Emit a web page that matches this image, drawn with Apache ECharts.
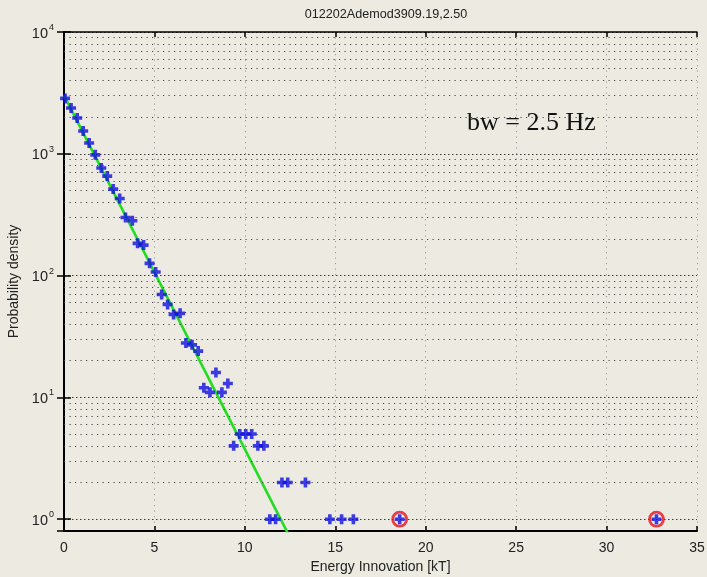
<!DOCTYPE html>
<html>
<head>
<meta charset="utf-8">
<script src="https://cdn.jsdelivr.net/npm/echarts@6/dist/echarts.min.js"></script>
<style>
html,body{margin:0;padding:0;background:#edeae2;}
#c{width:707px;height:577px;}
</style>
</head>
<body>
<div id="c"></div>
<script>
// ---- data ----
var titleText = '012202Ademod3909.19,2.50';
var xName = 'Energy Innovation [kT]';
var yName = 'Probability density';
var noteText = 'bw = 2.5 Hz';

var energyX = [0.06, 0.39, 0.73, 1.06, 1.39, 1.73, 2.06, 2.39, 2.72, 3.08,
               3.40, 3.78, 4.07, 4.40, 4.73, 5.07, 5.40, 5.73, 6.06, 6.42,
               6.74, 7.08, 7.42, 7.73, 8.07, 8.40, 8.73, 9.06, 9.38, 9.72,
               10.05, 10.38, 10.72, 11.05, 11.38, 11.70, 12.05, 12.37, 13.35, 14.70,
               15.35, 16.00, 18.56, 32.76];
var density = [2850, 2380, 1970, 1540, 1225, 980, 765, 656, 513, 430,
               300, 282, 184, 178, 126, 107, 70, 58, 48, 49,
               28, 27, 24, 12, 11, 16, 11, 13, 4, 5,
               5, 5, 4, 4, 1, 1, 2, 2, 2, 1,
               1, 1, 1, 1];
var outlierX = [18.56, 32.76];
var outlierY = [1, 1];
var fitX = [0, 12.6];
var fitY = [3020, 0.66];

var xTicks = [0, 5, 10, 15, 20, 25, 30, 35];
var yMinorGrid = [2,3,4,5,6,7,8,9, 20,30,40,50,60,70,80,90,
                  200,300,400,500,600,700,800,900, 2000,3000,4000,5000,6000,7000,8000,9000];

// ---- chart ----
var chart = echarts.init(document.getElementById('c'), null, {renderer: 'canvas'});
var font = 'Liberation Sans, Arial, sans-serif';

function zip(a, b) { return a.map(function (v, i) { return [v, b[i]]; }); }
function isPow10(v) { var l = Math.log10(v); return Math.abs(l - Math.round(l)) < 1e-6; }

var plusPath = 'path://M3.2,0h3.6v3.2h3.2v3.6h-3.2v3.2h-3.6v-3.2h-3.2v-3.6h3.2z';
var dotGridH = {color: '#444444', width: 1, type: [1.2, 4.3]};
var dotGridV = {color: '#9a9a9a', width: 1, type: [1.2, 4.3]};

var option = {
  backgroundColor: '#edeae2',
  animation: false,
  title: {
    text: titleText, left: 381, top: 3, textAlign: 'center',
    textStyle: {fontFamily: font, fontSize: 12.6, fontWeight: 'normal', color: '#222'}
  },
  grid: {left: 64, right: 10, top: 32, bottom: 46, containLabel: false, outerBoundsMode: 'none'},
  xAxis: [{
    type: 'value', min: xTicks[0], max: xTicks[xTicks.length - 1], interval: 5,
    name: xName, nameLocation: 'middle', nameGap: 29,
    nameTextStyle: {fontFamily: font, fontSize: 14, color: '#222'},
    axisLine: {lineStyle: {color: '#000', width: 2}},
    axisTick: {inside: true, length: 5, lineStyle: {color: '#000', width: 1.5}},
    axisLabel: {fontFamily: font, fontSize: 14, color: '#222', margin: 10},
    splitLine: {show: true, lineStyle: dotGridV}
  }, {
    type: 'value', position: 'top', min: xTicks[0], max: xTicks[xTicks.length - 1], interval: 5,
    axisLine: {lineStyle: {color: '#000', width: 1.5}},
    axisTick: {inside: true, length: 5, lineStyle: {color: '#000', width: 1.5}},
    axisLabel: {show: false}, splitLine: {show: false}
  }],
  yAxis: [{
    type: 'log', logBase: 10, min: 0.8, max: 10000,
    name: yName, nameLocation: 'middle', nameGap: 39,
    nameTextStyle: {fontFamily: font, fontSize: 14, color: '#222'},
    axisLine: {show: true, lineStyle: {color: '#000', width: 2}},
    axisTick: {inside: true, length: 7, lineStyle: {color: '#000', width: 1.5}},
    axisLabel: {
      margin: 10,
      formatter: function (v) {
        if (!isPow10(v)) return '';
        return '{b|10}{e|' + Math.round(Math.log10(v)) + '}';
      },
      rich: {
        b: {fontFamily: font, fontSize: 14.5, color: '#222', lineHeight: 18, verticalAlign: 'bottom'},
        e: {fontFamily: font, fontSize: 9, color: '#222', lineHeight: 18, verticalAlign: 'top', padding: [0, 0, 8, 1]}
      }
    },
    splitLine: {show: true, lineStyle: {color: '#3a3a3a', width: 1, type: [1.5, 2.5]}}
  }, {
    type: 'log', logBase: 10, min: 0.8, max: 10000, position: 'right',
    axisLine: {show: true, lineStyle: {color: '#000', width: 1.5}},
    axisTick: {inside: true, length: 7, lineStyle: {color: '#000', width: 1.5}},
    axisLabel: {show: false}, splitLine: {show: false}
  }],
  graphic: [{
    type: 'text', left: 467, top: 110, silent: true,
    style: {text: noteText, font: '26px "Liberation Serif", "Times New Roman", serif', fill: '#111'}
  }],
  series: [{
    type: 'line', name: 'grid', data: [], silent: true,
    markLine: {
      silent: true, symbol: ['none', 'none'], label: {show: false},
      lineStyle: dotGridH, animation: false,
      data: yMinorGrid.map(function (v) { return {yAxis: v}; })
    }
  }, {
    type: 'line', name: 'fit', data: zip(fitX, fitY), showSymbol: false, clip: true,
    lineStyle: {color: '#22dd22', width: 2.6}, z: 3
  }, {
    type: 'scatter', name: 'outliers', data: zip(outlierX, outlierY),
    symbol: 'circle', symbolSize: 14,
    itemStyle: {color: 'rgba(255,255,255,0.25)', borderColor: '#e8101a', borderWidth: 2.8}, z: 4
  }, {
    type: 'scatter', name: 'pdf', data: zip(energyX, density),
    symbol: plusPath, symbolSize: 10,
    itemStyle: {color: '#0f0fe0'}, z: 5
  }]
};
chart.setOption(option);
</script>
</body>
</html>
